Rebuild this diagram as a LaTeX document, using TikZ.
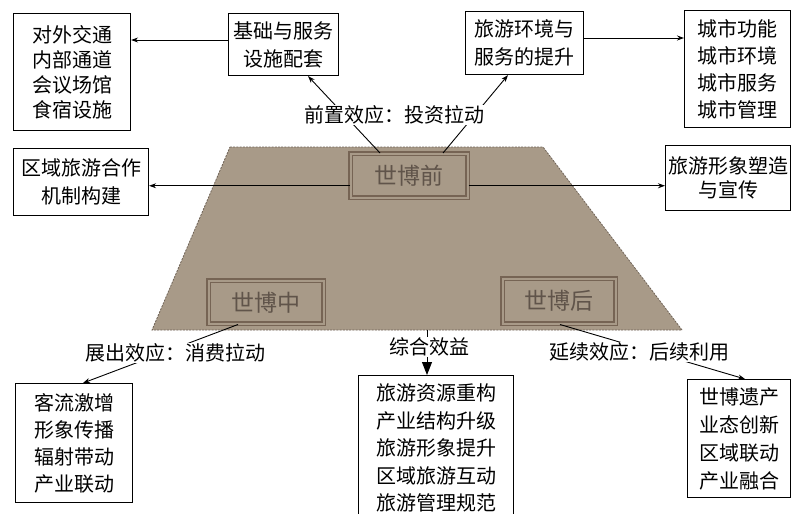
\documentclass[tikz,border=0pt]{standalone}
\usepackage{fontspec}
\newfontfamily\cjk{Noto Sans CJK SC}
\usetikzlibrary{arrows.meta,calc}
\definecolor{trapfill}{RGB}{168,154,136}
\definecolor{trapedge}{RGB}{112,100,88}
\definecolor{sbborder}{RGB}{118,100,84}
\definecolor{sbtext}{RGB}{96,84,74}
\begin{document}
\begin{tikzpicture}[x=1pt,y=-1pt,
  box/.style={draw=black, line width=1.1pt, fill=white, align=center, inner sep=0pt, anchor=north west,
    font=\cjk\fontsize{20pt}{27pt}\selectfont},
  sbbox/.style={draw=sbborder, line width=1.5pt, double=trapfill, double distance=2.2pt, fill=trapfill,
    anchor=north west, inner sep=0pt, text=sbtext, font=\cjk\fontsize{23pt}{27pt}\selectfont},
  lbl/.style={fill=white, inner sep=1pt, font=\cjk\fontsize{20pt}{24pt}\selectfont},
  arr/.style={line width=0.9pt, -{Stealth[length=7pt,width=5pt]}},
  bigarr/.style={line width=0.9pt, -{Triangle[length=13pt,width=10pt]}}
]
\clip (0,0) rectangle (793,514);
\fill[white] (0,0) rectangle (793,514);

% trapezoid
\draw[fill=trapfill, draw=trapedge, line width=0.8pt, dash pattern=on 2pt off 1.2pt]
  (230,147) -- (543,147) -- (682,330) -- (152,330) -- cycle;
\coordinate (tb) at (427,330);

% boxes
\node[box, minimum width=117pt, minimum height=117pt, font=\cjk\fontsize{20pt}{25pt}\selectfont] (A) at (13,13) {对外交通\\内部通道\\会议场馆\\食宿设施};
\node[box, minimum width=110pt, minimum height=62pt, font=\cjk\fontsize{20pt}{28pt}\selectfont] (B) at (228,13) {基础与服务\\设施配套};
\node[box, minimum width=118pt, minimum height=63pt, font=\cjk\fontsize{20pt}{28pt}\selectfont] (C) at (465,11) {旅游环境与\\服务的提升};
\node[box, minimum width=106pt, minimum height=117pt] (D) at (684,10) {城市功能\\城市环境\\城市服务\\城市管理};
\node[box, minimum width=135pt, minimum height=67pt, font=\cjk\fontsize{20pt}{28pt}\selectfont] (E) at (13,148) {区域旅游合作\\机制构建};
\node[box, minimum width=125pt, minimum height=65pt, font=\cjk\fontsize{20pt}{24pt}\selectfont] (F) at (665,145) {旅游形象塑造\\与宣传};
\node[box, minimum width=117pt, minimum height=119pt] (G) at (15,383) {客流激增\\形象传播\\辐射带动\\产业联动};
\node[box, minimum width=155pt, minimum height=145pt, font=\cjk\fontsize{20pt}{27.5pt}\selectfont] (H) at (358,375) {旅游资源重构\\产业结构升级\\旅游形象提升\\区域旅游互动\\旅游管理规范};
\node[box, minimum width=103pt, minimum height=118pt, font=\cjk\fontsize{20pt}{28pt}\selectfont] (I) at (687,379) {世博遗产\\业态创新\\区域联动\\产业融合};

% Expo boxes
\node[sbbox, minimum width=117pt, minimum height=44pt] (sbq) at (350,153) {世博前};
\node[sbbox, minimum width=115pt, minimum height=43pt] (sbz) at (208,280) {世博中};
\node[sbbox, minimum width=113pt, minimum height=45pt] (sbh) at (502,278) {世博后};

% connectors
\draw[arr] (B.west |- 0,40) -- (A.east |- 0,40);
\draw[arr] (C.east |- 0,38) -- (D.west |- 0,38);
\draw[arr] ($(sbq.north west)+(30,0)$) -- ($(B.south west)+(80,0)$);
\draw[arr] ($(sbq.north west)+(93,0)$) -- ($(C.south west)+(43,0)$);
\draw[arr] ([yshift=-10pt]sbq.west) -- ([yshift=-10pt]sbq.west -| E.east);
\draw[arr] ([yshift=-10pt]sbq.east) -- ([yshift=-10pt]sbq.east -| F.west);
\draw[arr] ($(sbz.south west)+(30,0)$) -- ($(G.north west)+(68,0)$);
\draw[bigarr] (tb) -- (tb |- H.north);
\draw[arr] ($(sbh.south west)+(58,0)$) -- ($(I.north west)+(58,0)$);

% labels
\node[lbl] (l1) at (394,115) {前置效应：投资拉动};
\node[lbl] (l2) at (175,353) {展出效应：消费拉动};
\node[lbl] (l3) at (429,347) {综合效益};
\node[lbl] (l4) at (639,352) {延续效应：后续利用};
\end{tikzpicture}
\end{document}
